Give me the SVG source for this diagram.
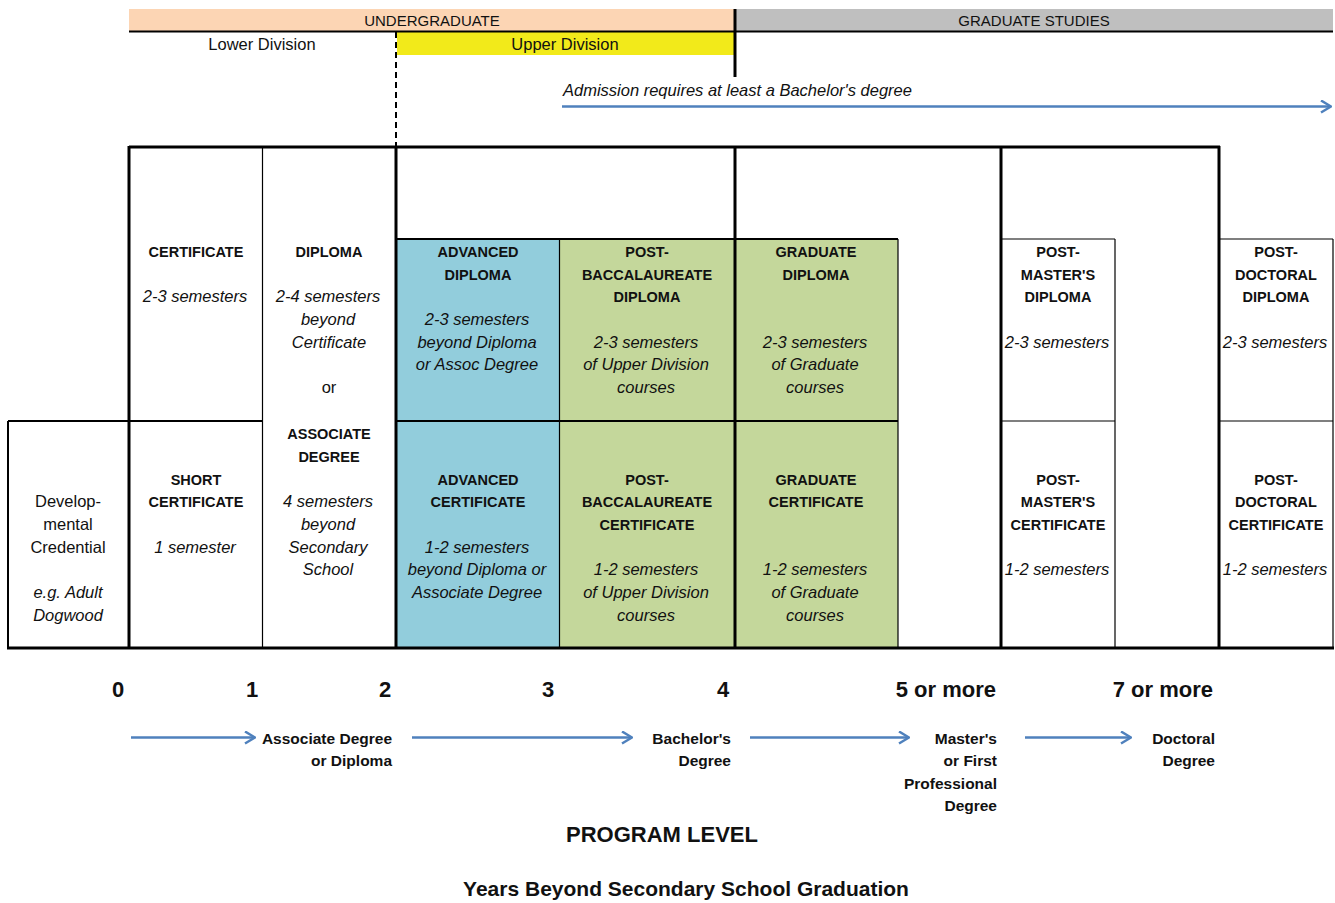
<svg xmlns="http://www.w3.org/2000/svg" width="1335" height="903" viewBox="0 0 1335 903">
<defs>
<style>
text{font-family:"Liberation Sans",Arial,sans-serif;fill:#111;text-anchor:middle}
.b{font-weight:bold;font-size:14.5px}
.i{font-style:italic;font-size:16.5px}
.r{font-size:16.5px}
.h{font-size:15px}
.n{font-weight:bold;font-size:22px}
.d{font-weight:bold;font-size:15.5px;text-anchor:end}
.thick{stroke:#000;stroke-width:3;fill:none}
.mid{stroke:#000;stroke-width:2;fill:none}
.thin{stroke:#000;stroke-width:1.2;fill:none}
.arr{stroke:#4F81BD;stroke-width:2.5;fill:none;marker-end:url(#ah)}
</style>
<marker id="ah" viewBox="0 0 12 14" refX="11" refY="7" markerWidth="12" markerHeight="14" markerUnits="userSpaceOnUse" orient="auto">
<path d="M1,1 L11,7 L1,13" stroke="#4F81BD" stroke-width="2.5" fill="none"/>
</marker>
</defs>
<rect width="1335" height="903" fill="#fff"/>

<g id="header">
<rect x="129" y="9" width="606" height="22" fill="#FCD5B4"/>
<rect x="735" y="9" width="598" height="22" fill="#BFBFBF"/>
<rect x="397" y="32" width="338" height="23" fill="#F2EA1A"/>
<line x1="129" y1="31.5" x2="1333" y2="31.5" class="mid"/>
<line x1="735" y1="9" x2="735" y2="77" class="thick"/>
<line x1="396" y1="32" x2="396" y2="146" stroke="#000" stroke-width="2" stroke-dasharray="6,4"/>
<text x="432" y="26" class="h">UNDERGRADUATE</text>
<text x="1034" y="26" class="h">GRADUATE STUDIES</text>
<text x="262" y="50" class="r">Lower Division</text>
<text x="565" y="50" class="r">Upper Division</text>
<text x="563" y="96" class="i" style="text-anchor:start">Admission requires at least a Bachelor's degree</text>
</g>

<g id="fills">
<rect x="396" y="239" width="163" height="409" fill="#92CDDC"/>
<rect x="559" y="239" width="339" height="409" fill="#C4D79B"/>
</g>

<g id="grid">
<line x1="129" y1="147" x2="1220" y2="147" class="thick"/>
<line x1="7" y1="648" x2="1334" y2="648" class="thick"/>
<line x1="129" y1="146" x2="129" y2="649" class="thick"/>
<line x1="396" y1="146" x2="396" y2="649" class="thick"/>
<line x1="735" y1="146" x2="735" y2="649" class="thick"/>
<line x1="1001" y1="146" x2="1001" y2="649" class="thick"/>
<line x1="1219" y1="146" x2="1219" y2="649" class="thick"/>
<line x1="262.5" y1="147" x2="262.5" y2="648" class="thin"/>
<line x1="8" y1="421" x2="8" y2="648" class="mid"/>
<line x1="8" y1="421" x2="263" y2="421" class="mid"/>
<line x1="396" y1="239" x2="898" y2="239" class="mid"/>
<line x1="396" y1="421" x2="898" y2="421" class="mid"/>
<line x1="559.5" y1="239" x2="559.5" y2="648" class="thin"/>
<line x1="898" y1="239" x2="898" y2="648" class="thin"/>
<line x1="1001" y1="239" x2="1115" y2="239" class="thin"/>
<line x1="1001" y1="421" x2="1115" y2="421" class="thin"/>
<line x1="1115" y1="239" x2="1115" y2="648" class="thin"/>
<line x1="1219" y1="239" x2="1333" y2="239" class="thin"/>
<line x1="1219" y1="421" x2="1333" y2="421" class="thin"/>
<line x1="1333" y1="239" x2="1333" y2="648" class="thin"/>
</g>

<g id="developmental">
<text x="68" y="507" class="r">Develop-</text>
<text x="68" y="530" class="r">mental</text>
<text x="68" y="553" class="r">Credential</text>
<text x="68" y="598" class="i">e.g. Adult</text>
<text x="68" y="621" class="i">Dogwood</text>
</g>

<g id="certificate">
<text x="196" y="257" class="b">CERTIFICATE</text>
<text x="195" y="302" class="i">2-3 semesters</text>
</g>

<g id="short-certificate">
<text x="196" y="485" class="b">SHORT</text>
<text x="196" y="507" class="b">CERTIFICATE</text>
<text x="195" y="553" class="i">1 semester</text>
</g>

<g id="diploma-associate">
<text x="329" y="257" class="b">DIPLOMA</text>
<text x="328" y="302" class="i">2-4 semesters</text>
<text x="328" y="325" class="i">beyond</text>
<text x="329" y="348" class="i">Certificate</text>
<text x="329" y="393" class="r">or</text>
<text x="329" y="439" class="b">ASSOCIATE</text>
<text x="329" y="462" class="b">DEGREE</text>
<text x="328" y="507" class="i">4 semesters</text>
<text x="328" y="530" class="i">beyond</text>
<text x="328" y="553" class="i">Secondary</text>
<text x="328" y="575" class="i">School</text>
</g>

<g id="advanced-diploma">
<text x="478" y="257" class="b">ADVANCED</text>
<text x="478" y="280" class="b">DIPLOMA</text>
<text x="477" y="325" class="i">2-3 semesters</text>
<text x="477" y="348" class="i">beyond Diploma</text>
<text x="477" y="370" class="i">or Assoc Degree</text>
</g>

<g id="advanced-certificate">
<text x="478" y="485" class="b">ADVANCED</text>
<text x="478" y="507" class="b">CERTIFICATE</text>
<text x="477" y="553" class="i">1-2 semesters</text>
<text x="477" y="575" class="i">beyond Diploma or</text>
<text x="477" y="598" class="i">Associate Degree</text>
</g>

<g id="post-bacc-diploma">
<text x="647" y="257" class="b">POST-</text>
<text x="647" y="280" class="b">BACCALAUREATE</text>
<text x="647" y="302" class="b">DIPLOMA</text>
<text x="646" y="348" class="i">2-3 semesters</text>
<text x="646" y="370" class="i">of Upper Division</text>
<text x="646" y="393" class="i">courses</text>
</g>

<g id="post-bacc-certificate">
<text x="647" y="485" class="b">POST-</text>
<text x="647" y="507" class="b">BACCALAUREATE</text>
<text x="647" y="530" class="b">CERTIFICATE</text>
<text x="646" y="575" class="i">1-2 semesters</text>
<text x="646" y="598" class="i">of Upper Division</text>
<text x="646" y="621" class="i">courses</text>
</g>

<g id="graduate-diploma">
<text x="816" y="257" class="b">GRADUATE</text>
<text x="816" y="280" class="b">DIPLOMA</text>
<text x="815" y="348" class="i">2-3 semesters</text>
<text x="815" y="370" class="i">of Graduate</text>
<text x="815" y="393" class="i">courses</text>
</g>

<g id="graduate-certificate">
<text x="816" y="485" class="b">GRADUATE</text>
<text x="816" y="507" class="b">CERTIFICATE</text>
<text x="815" y="575" class="i">1-2 semesters</text>
<text x="815" y="598" class="i">of Graduate</text>
<text x="815" y="621" class="i">courses</text>
</g>

<g id="post-masters-diploma">
<text x="1058" y="257" class="b">POST-</text>
<text x="1058" y="280" class="b">MASTER'S</text>
<text x="1058" y="302" class="b">DIPLOMA</text>
<text x="1057" y="348" class="i">2-3 semesters</text>
</g>

<g id="post-masters-certificate">
<text x="1058" y="485" class="b">POST-</text>
<text x="1058" y="507" class="b">MASTER'S</text>
<text x="1058" y="530" class="b">CERTIFICATE</text>
<text x="1057" y="575" class="i">1-2 semesters</text>
</g>

<g id="post-doctoral-diploma">
<text x="1276" y="257" class="b">POST-</text>
<text x="1276" y="280" class="b">DOCTORAL</text>
<text x="1276" y="302" class="b">DIPLOMA</text>
<text x="1275" y="348" class="i">2-3 semesters</text>
</g>

<g id="post-doctoral-certificate">
<text x="1276" y="485" class="b">POST-</text>
<text x="1276" y="507" class="b">DOCTORAL</text>
<text x="1276" y="530" class="b">CERTIFICATE</text>
<text x="1275" y="575" class="i">1-2 semesters</text>
</g>

<g id="scale">
<text x="118" y="697" class="n">0</text>
<text x="252" y="697" class="n">1</text>
<text x="385" y="697" class="n">2</text>
<text x="548" y="697" class="n">3</text>
<text x="723" y="697" class="n">4</text>
<text x="996" y="697" class="n" style="text-anchor:end">5 or more</text>
<text x="1213" y="697" class="n" style="text-anchor:end">7 or more</text>
</g>

<g id="degrees">
<text x="392" y="744" class="d">Associate Degree</text>
<text x="392" y="766" class="d">or Diploma</text>
<text x="731" y="744" class="d">Bachelor's</text>
<text x="731" y="766" class="d">Degree</text>
<text x="997" y="744" class="d">Master's</text>
<text x="997" y="766" class="d">or First</text>
<text x="997" y="789" class="d">Professional</text>
<text x="997" y="811" class="d">Degree</text>
<text x="1215" y="744" class="d">Doctoral</text>
<text x="1215" y="766" class="d">Degree</text>
</g>

<g id="connectors">
<line x1="562" y1="106.5" x2="1331" y2="106.5" class="arr"/>
<line x1="131" y1="737.5" x2="255" y2="737.5" class="arr"/>
<line x1="412" y1="737.5" x2="632" y2="737.5" class="arr"/>
<line x1="750" y1="737.5" x2="909" y2="737.5" class="arr"/>
<line x1="1025" y1="737.5" x2="1131" y2="737.5" class="arr"/>
</g>

<g id="titles">
<text x="662" y="842" class="n">PROGRAM LEVEL</text>
<text x="686" y="896" style="font-weight:bold;font-size:21px">Years Beyond Secondary School Graduation</text>
</g>
</svg>
